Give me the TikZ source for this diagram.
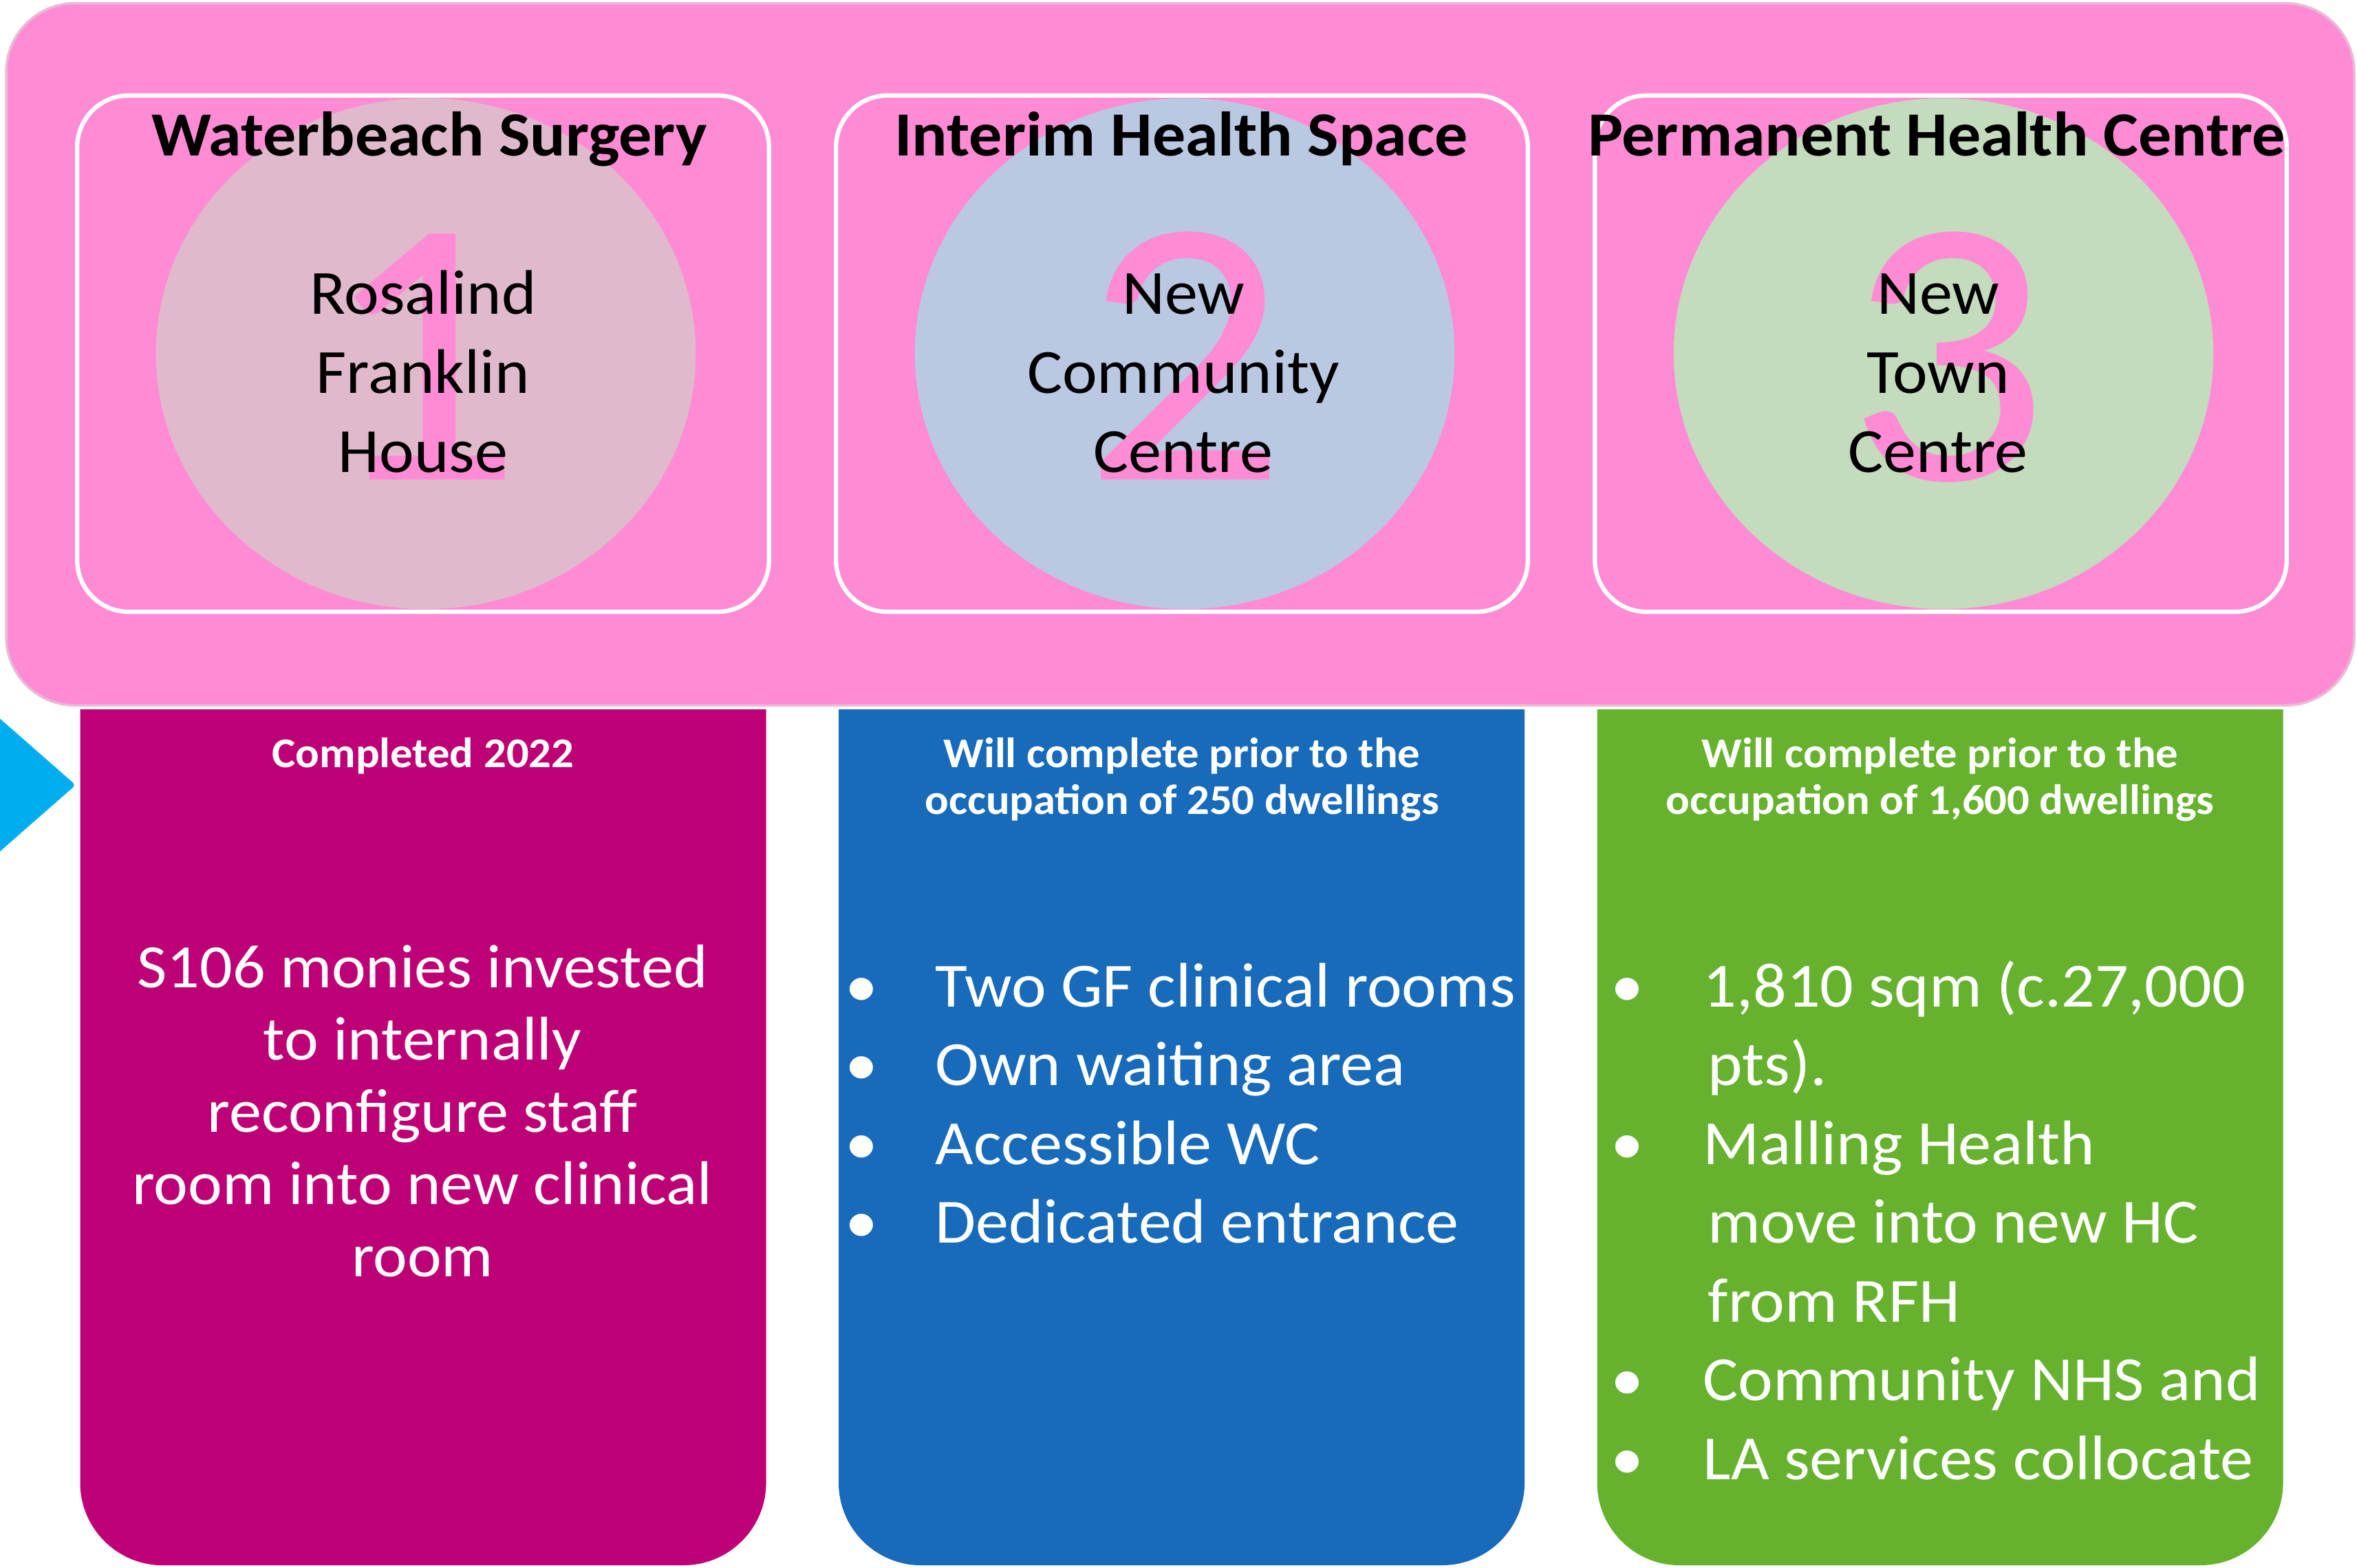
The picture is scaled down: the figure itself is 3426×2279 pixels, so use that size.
\documentclass[tikz,border=0pt]{standalone}
\usepackage{fontspec}
\setmainfont{Carlito}[FakeStretch=1.05]
\usetikzlibrary{shapes.geometric}

\definecolor{framepink}{RGB}{255,139,213}
\definecolor{frameedge}{RGB}{232,188,212}
\definecolor{discone}{RGB}{224,186,204}
\definecolor{disctwo}{RGB}{186,200,226}
\definecolor{discthree}{RGB}{196,219,190}
\definecolor{stagemagenta}{RGB}{190,0,118}
\definecolor{stageblue}{RGB}{24,106,186}
\definecolor{stagegreen}{RGB}{102,178,46}
\definecolor{arrowcyan}{RGB}{0,174,239}

\begin{document}
\begin{tikzpicture}[x=0.01cm, y=-0.01cm,
    site/.style={draw=white, line width=1.8pt, rounded corners=0.75cm, minimum width=10.05cm, minimum height=7.5cm},
    disc/.style={ellipse, inner sep=0pt, minimum width=7.84cm, minimum height=7.42cm},
    bignum/.style={anchor=base, inner sep=0pt, text=framepink, font=\fontsize{158}{158}\selectfont},
    sitename/.style={anchor=base, inner sep=0pt, font=\bfseries\fontsize{26}{32}\selectfont},
    place/.style={anchor=base, inner sep=0pt, font=\fontsize{26}{32}\selectfont},
    when/.style={anchor=base, inner sep=0pt, text=white, font=\bfseries\fontsize{17.5}{20}\selectfont},
    detail/.style={anchor=base, inner sep=0pt, text=white, font=\fontsize{25.5}{30}\selectfont},
    item/.style={anchor=base west, inner sep=0pt, text=white, font=\fontsize{26}{32}\selectfont},
    pointdot/.style={anchor=base, inner sep=0pt, text=white, font=\fontsize{26}{32}\selectfont}]
    \useasboundingbox (0,0) rectangle (3426,2279);
    \fill[white] (0,0) rectangle (3426,2279);

    % Cyan pointer on the left
    \fill[arrowcyan, rounded corners=0.05cm] (-20,1027) -- (110,1141) -- (-20,1255) -- cycle;

    % Pink band
    \node[fill=framepink, draw=frameedge, line width=1pt, rounded corners=1cm,
          minimum width=34.11cm, minimum height=10.2cm] (band) at (1715.5,515) {};

    % Discs, sites and numbers
    \node[disc, fill=discone] (disc1) at (619,514) {};
    \node[disc, fill=disctwo] (disc2) at (1722,514) {};
    \node[disc, fill=discthree] (disc3) at (2825,514) {};
    \node[site] (site1) at (615,514) {};
    \node[site] (site2) at (1718,514) {};
    \node[site] (site3) at (2821,514) {};
    \node[bignum] (num1) at (612,697) {1};
    \node[bignum] (num2) at (1722,697) {2};
    \node[bignum] (num3) at (2830,697) {3};

    % Site names
    \node[sitename] (name1) at (624,227) {Waterbeach Surgery};
    \node[sitename] (name2) at (1717,227) {Interim Health Space};
    \node[sitename] (name3) at (2815,227) {Permanent Health Centre};

    % Places
    \foreach \t [count=\k] in {Rosalind, Franklin, House}
        \node[place] (rfh\k) at (615,{457+114.5*(\k-1)}) {\t};
    \foreach \t [count=\k] in {New, Community, Centre}
        \node[place] (ncc\k) at (1720,{457+114.5*(\k-1)}) {\t};
    \foreach \t [count=\k] in {New, Town, Centre}
        \node[place] (ntc\k) at (2817,{457+114.5*(\k-1)}) {\t};

    % Stages below the band (square top, round bottom)
    \foreach \cx/\col in {615/stagemagenta, 1717.5/stageblue, 2820/stagegreen}
        \fill[\col] ({\cx-498.5},1031) -- ({\cx-498.5},2155)
            arc[start angle=180, end angle=270, radius=1.2cm] -- ({\cx+378.5},2275)
            arc[start angle=270, end angle=360, radius=1.2cm] -- ({\cx+498.5},1031) -- cycle;

    % When each stage completes
    \node[when] (when1) at (615,1115) {Completed 2022};
    \node[when] (when2a) at (1718,1115) {Will complete prior to the};
    \node[when] (when2b) at (1718,1183) {occupation of 250 dwellings};
    \node[when] (when3a) at (2820,1115) {Will complete prior to the};
    \node[when] (when3b) at (2820,1183) {occupation of 1,600 dwellings};

    % Stage 1
    \foreach \t [count=\k] in {S106 monies invested, to internally, reconfigure staff,
                               room into new clinical, room}
        \node[detail] (work\k) at (614,{1435+105*(\k-1)}) {\t};

    % Stage 2
    \foreach \t [count=\k] in {Two GF clinical rooms, Own waiting area, Accessible WC, Dedicated entrance} {
        \node[pointdot] (dotb\k) at (1252,{1463+114.5*(\k-1)}) {•};
        \node[item] (itemb\k) at (1359,{1463+114.5*(\k-1)}) {\t};
    }

    % Stage 3
    \foreach \k in {1,3,6,7}
        \node[pointdot] (dotc\k) at (2365,{1463+114.5*(\k-1)}) {•};
    \node[item] (itemc1) at (2475,1463) {1,810 sqm (c.27,000};
    \node[item] (itemc2) at (2482,1577.5) {pts).};
    \node[item] (itemc3) at (2475,1692) {Malling Health};
    \node[item] (itemc4) at (2482,1806.5) {move into new HC};
    \node[item] (itemc5) at (2482,1921) {from RFH};
    \node[item] (itemc6) at (2475,2035.5) {Community NHS and};
    \node[item] (itemc7) at (2475,2150) {LA services collocate};
\end{tikzpicture}
\end{document}
